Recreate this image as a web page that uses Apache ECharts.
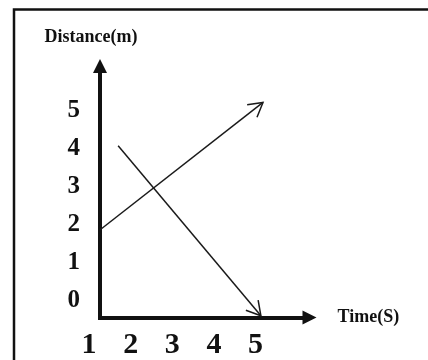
<!DOCTYPE html>
<html>
<head>
<meta charset="utf-8">
<script src="https://cdn.jsdelivr.net/npm/echarts@6/dist/echarts.min.js"></script>
<style>
  html, body { margin: 0; padding: 0; background: #fff; }
  #main { width: 428px; height: 360px; }
</style>
</head>
<body>
<div id="main"></div>
<script>
// tick labels
var timeTicks = [1, 2, 3, 4, 5];
var distanceTicks = [0, 1, 2, 3, 4, 5];
// the two arrows, [start, end] in (time, distance)
var risingLine = [[1.26, 1.88], [5.18, 5.21]];
var fallingLine = [[1.70, 4.08], [5.13, -0.36]];

var serif = '"Liberation Serif", "Times New Roman", serif';
var ink = '#111';

// pixel box where the tick labels sit (1..5 / 0..5)
var frame = { left: 89, top: 110.5, right: 255.5, bottom: 302 };
// pixel box of the drawn axes (arrow ends included)
var plot = { left: 100, top: 66, right: 309.5, bottom: 317.5 };

var ux = (frame.right - frame.left) / (timeTicks[timeTicks.length - 1] - timeTicks[0]);
var uy = (frame.bottom - frame.top) / (distanceTicks[distanceTicks.length - 1] - distanceTicks[0]);
var xMin = timeTicks[0] + (plot.left - frame.left) / ux;
var xMax = timeTicks[0] + (plot.right - frame.left) / ux;
var yMin = distanceTicks[0] - (plot.bottom - frame.bottom) / uy;
var yMax = distanceTicks[0] + (frame.bottom - plot.top) / uy;

var arrowData = [
  risingLine[0].concat(risingLine[1]),
  fallingLine[0].concat(fallingLine[1])
];

var myChart = echarts.init(document.getElementById('main'), null, { renderer: 'canvas' });

function renderArrow(params, api) {
  var p1 = api.coord([api.value(0), api.value(1)]);
  var p2 = api.coord([api.value(2), api.value(3)]);
  var back = Math.atan2(p1[1] - p2[1], p1[0] - p2[0]);
  var len = 16, spread = Math.PI / 6;
  var a = [p2[0] + len * Math.cos(back + spread), p2[1] + len * Math.sin(back + spread)];
  var b = [p2[0] + len * Math.cos(back - spread), p2[1] + len * Math.sin(back - spread)];
  var st = { stroke: '#1a1a1a', lineWidth: 1.5, fill: null };
  return {
    type: 'group',
    children: [
      { type: 'line', shape: { x1: p1[0], y1: p1[1], x2: p2[0], y2: p2[1] }, style: st },
      { type: 'polyline', shape: { points: [a, p2, b] }, style: st }
    ]
  };
}

myChart.setOption({
  animation: false,
  graphic: [{
    type: 'rect',
    shape: { x: 14, y: 9.5, width: 460, height: 400 },
    style: { fill: null, stroke: '#111', lineWidth: 2.5 },
    silent: true
  }],
  grid: [
    { left: plot.left, top: plot.top, width: plot.right - plot.left, height: plot.bottom - plot.top },
    { left: frame.left, top: frame.top, width: frame.right - frame.left, height: frame.bottom - frame.top }
  ],
  xAxis: [{
    gridIndex: 0,
    type: 'value',
    min: xMin,
    max: xMax,
    name: 'Time(S)',
    nameLocation: 'end',
    nameGap: 28,
    nameTextStyle: { fontFamily: serif, fontWeight: 'bold', fontSize: 18, color: ink },
    axisLine: {
      onZero: false,
      symbol: ['none', 'triangle'],
      symbolSize: [14, 14],
      lineStyle: { color: ink, width: 4, cap: 'square' }
    },
    axisTick: { show: false },
    axisLabel: { show: false },
    splitLine: { show: false }
  }, {
    gridIndex: 1,
    type: 'value',
    min: timeTicks[0],
    max: timeTicks[timeTicks.length - 1],
    interval: 1,
    axisLine: { show: false },
    axisTick: { show: false },
    splitLine: { show: false },
    axisLabel: {
      margin: 29,
      fontFamily: serif,
      fontWeight: 'bold',
      fontSize: 30,
      color: ink,
      formatter: function (v) { return timeTicks.indexOf(v) >= 0 ? String(v) : ''; }
    }
  }],
  yAxis: [{
    gridIndex: 0,
    type: 'value',
    min: yMin,
    max: yMax,
    name: 'Distance(m)',
    nameLocation: 'end',
    nameGap: 20,
    nameTextStyle: { fontFamily: serif, fontWeight: 'bold', fontSize: 18, color: ink, padding: [0, 18, 0, 0] },
    axisLine: {
      onZero: false,
      symbol: ['none', 'triangle'],
      symbolSize: [14, 14],
      lineStyle: { color: ink, width: 4, cap: 'square' }
    },
    axisTick: { show: false },
    axisLabel: { show: false },
    splitLine: { show: false }
  }, {
    gridIndex: 1,
    type: 'value',
    min: distanceTicks[0],
    max: distanceTicks[distanceTicks.length - 1],
    interval: 1,
    axisLine: { show: false },
    axisTick: { show: false },
    splitLine: { show: false },
    axisLabel: {
      margin: 9,
      fontFamily: serif,
      fontWeight: 'bold',
      fontSize: 25,
      color: ink,
      formatter: function (v) { return distanceTicks.indexOf(v) >= 0 ? String(v) : ''; }
    }
  }],
  series: [{
    type: 'custom',
    xAxisIndex: 0,
    yAxisIndex: 0,
    renderItem: renderArrow,
    encode: { x: [0, 2], y: [1, 3] },
    data: arrowData,
    silent: true
  }]
});
</script>
</body>
</html>
